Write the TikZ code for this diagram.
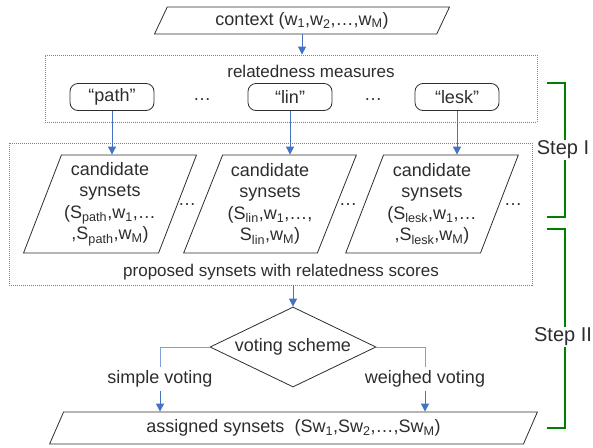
\documentclass[tikz,border=0pt]{standalone}
\usepackage{fontspec}
\setmainfont{Liberation Sans}
\usetikzlibrary{arrows.meta, positioning, shapes.geometric}
\definecolor{arrowblue}{RGB}{68,114,196}
\definecolor{linkblue}{RGB}{125,160,215}
\definecolor{stepgreen}{RGB}{0,128,0}
\definecolor{inkgray}{RGB}{45,45,45}
\begin{document}
\begin{tikzpicture}[
	x=1pt, y=-1pt,
	font=\fontsize{18}{21.5}\selectfont,
	text=inkgray,
	>={Triangle[length=8pt,width=8pt]},
	flow/.style={->, arrowblue, line width=1pt},
	link/.style={linkblue, line width=1pt},
	io/.style={trapezium, trapezium stretches=true, draw=inkgray, line width=0.8pt, inner sep=0pt, align=center},
	measure/.style={rectangle, rounded corners=8pt, draw=inkgray, line width=0.8pt, minimum width=84pt, minimum height=27pt, inner sep=0pt},
	groupbox/.style={draw=gray, dash pattern=on 1pt off 1pt, line width=0.8pt, inner sep=0pt},
	grouptitle/.style={font=\fontsize{17}{20}\selectfont},
	decision/.style={diamond, aspect=2.1, draw=inkgray, line width=0.8pt, inner sep=0pt, minimum width=166pt, minimum height=80pt},
	bracket/.style={stepgreen, line width=2pt},
	steplabel/.style={fill=white, inner sep=1pt, font=\fontsize{20}{24}\selectfont}
]
\useasboundingbox (0,0) rectangle (593,447);

% input
\node[io, trapezium left angle=64, trapezium right angle=116, minimum width=295pt, minimum height=27pt] (context) at (302,20.5) {context (w\textsubscript{1},w\textsubscript{2},…,w\textsubscript{M})};

% step I: measures
\node[groupbox, minimum width=492pt, minimum height=67pt] (measures) at (291,88.5) {};
\node[grouptitle] (measurestitle) at (311,71) {relatedness measures};
\node[measure] (path) at (112,97) {“path”};
\node[measure] (lin)  at (290,97) {“lin”};
\node[measure] (lesk) at (457,97) {“lesk”};
\node (dotsa) at (202,100) {…};
\node (dotsb) at (373,100) {…};

% step I: candidates
\node[groupbox, minimum width=523pt, minimum height=142pt] (proposed) at (270.5,214) {};
\node[io, trapezium left angle=66.8, trapezium right angle=113.2, minimum width=173pt, minimum height=98pt] (cand1) at (110,204)
	{candidate\\synsets\\(S\textsubscript{path},w\textsubscript{1},…\\,S\textsubscript{path},w\textsubscript{M})};
\node[io, trapezium left angle=66.8, trapezium right angle=113.2, minimum width=173pt, minimum height=98pt] (cand2) at (270,204)
	{candidate\\synsets\\(S\textsubscript{lin},w\textsubscript{1},…,\\S\textsubscript{lin},w\textsubscript{M})};
\node[io, trapezium left angle=66.8, trapezium right angle=113.2, minimum width=173pt, minimum height=98pt] (cand3) at (432,204)
	{candidate\\synsets\\(S\textsubscript{lesk},w\textsubscript{1},…\\,S\textsubscript{lesk},w\textsubscript{M})};
\node (dotsc) at (187,205) {…};
\node (dotsd) at (348,205) {…};
\node (dotse) at (513,205) {…};
\node[grouptitle] (proposedtitle) at (281,272) {proposed synsets with relatedness scores};

% step II: voting
\node[decision] (vote) at (293,347) {voting scheme};
\node (simple)  at (160,379) {simple voting};
\node (weighed) at (425,379) {weighed voting};
\node[io, trapezium left angle=62, trapezium right angle=118, minimum width=488pt, minimum height=32pt] (assigned) at (293.5,428)
	{assigned synsets\ \ (Sw\textsubscript{1},Sw\textsubscript{2},…,Sw\textsubscript{M})};

% connectors
\draw[flow] (context.south) -- (context.south |- measures.north);
\draw[flow] (path.south) -- (path.south |- cand1.north);
\draw[flow] (lin.south) -- (lin.south |- cand2.north);
\draw[flow] (lesk.south) -- (lesk.south |- cand3.north);
\draw[flow] (vote.north |- proposed.south) -- (vote.north);
\draw[link] (vote.west) -| (simple.north);
\draw[link] (vote.east) -| (weighed.north);
\draw[flow] (simple.south) -- (simple.south |- assigned.north);
\draw[flow] (weighed.south) -- (weighed.south |- assigned.north);

% steps
\draw[bracket] (547,83) -- (565,83) -- (565,217) -- (547,217);
\draw[bracket] (547,229) -- (565,229) -- (565,428) -- (547,428);
\node[steplabel] (stepone) at (563,150) {Step I};
\node[steplabel] (steptwo) at (563,337) {Step II};
\end{tikzpicture}
\end{document}
